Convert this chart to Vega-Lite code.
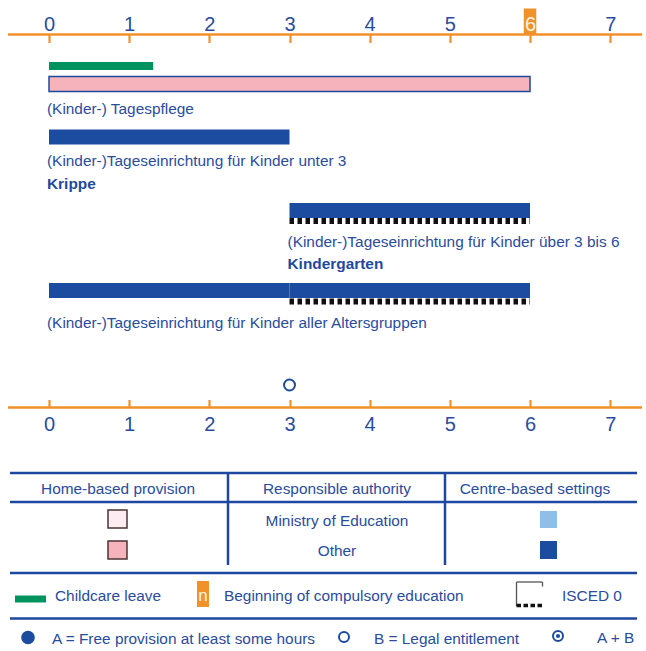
{
  "$schema": "https://vega.github.io/schema/vega-lite/v6.json",
  "width": 646,
  "height": 651,
  "padding": 0,
  "autosize": {"type": "none"},
  "background": "white",
  "config": {"view": {"stroke": null}, "font": "Liberation Sans, Arial, sans-serif"},
  "datasets": {
    "compulsory": [{"age": 6, "top": 0.85, "bottom": 3.4}],
    "entitlement": [{"age": 3, "lane": 38.5, "type": "B"}],
    "axisLines": [{"from": -0.511, "to": 7.397, "lane": 3.45}, {"from": -0.511, "to": 7.397, "lane": 40.75}],
    "provision": [
      {"category": "Childcare leave", "start": 0, "end": 1.3, "top": 6.2, "bottom": 7.0},
      {"category": "Home-based / Other", "start": 0, "end": 6, "top": 7.65, "bottom": 9.15},
      {"category": "Centre-based / Other", "start": 0, "end": 3, "top": 12.95, "bottom": 14.45},
      {"category": "Centre-based / Other", "start": 3, "end": 6, "top": 20.3, "bottom": 21.8},
      {"category": "Centre-based / Other", "start": 0, "end": 3, "top": 28.3, "bottom": 29.8},
      {"category": "Centre-based / Other", "start": 3, "end": 6, "top": 28.3, "bottom": 29.8}
    ],
    "isced": [{"start": 3, "end": 6, "lane": 22.1}, {"start": 3, "end": 6, "lane": 30.15}],
    "labels": [
      {"text": "(Kinder-) Tagespflege", "age": 0, "lane": 10.9, "bold": false},
      {"text": "(Kinder-)Tageseinrichtung für Kinder unter 3", "age": 0, "lane": 16.1, "bold": false},
      {"text": "Krippe", "age": 0, "lane": 18.4, "bold": true},
      {"text": "(Kinder-)Tageseinrichtung für Kinder über 3 bis 6", "age": 3, "lane": 24.2, "bold": false},
      {"text": "Kindergarten", "age": 3, "lane": 26.4, "bold": true},
      {"text": "(Kinder-)Tageseinrichtung für Kinder aller Altersgruppen", "age": 0, "lane": 32.3, "bold": false}
    ],
    "tableLines": [
      {"x1": 1.0, "x2": 63.7, "y1": 47.3, "y2": 47.3},
      {"x1": 1.0, "x2": 63.7, "y1": 50.2, "y2": 50.2},
      {"x1": 1.0, "x2": 63.7, "y1": 57.3, "y2": 57.3},
      {"x1": 1.0, "x2": 63.7, "y1": 61.85, "y2": 61.85},
      {"x1": 22.8, "x2": 22.8, "y1": 47.3, "y2": 56.5},
      {"x1": 44.5, "x2": 44.5, "y1": 47.3, "y2": 56.5}
    ],
    "swatches": [
      {"category": "Home-based / Ministry of Education", "x1": 10.8, "x2": 12.7, "y1": 51.0, "y2": 52.8},
      {"category": "Home-based / Other", "x1": 10.8, "x2": 12.7, "y1": 54.1, "y2": 55.9},
      {"category": "Centre-based / Ministry of Education", "x1": 54.0, "x2": 55.7, "y1": 51.1, "y2": 52.8},
      {"category": "Centre-based / Other", "x1": 54.0, "x2": 55.7, "y1": 54.1, "y2": 55.9},
      {"category": "Childcare leave", "x1": 1.5, "x2": 4.6, "y1": 59.55, "y2": 60.25},
      {"category": "Compulsory education", "x1": 19.7, "x2": 20.9, "y1": 58.1, "y2": 60.7}
    ],
    "iscedFrame": [
      {"x1": 51.65, "x2": 54.25, "y1": 58.2, "y2": 58.2},
      {"x1": 51.65, "x2": 51.65, "y1": 58.2, "y2": 60.6},
      {"x1": 54.25, "x2": 54.25, "y1": 58.2, "y2": 58.65}
    ],
    "iscedDots": [{"x1": 51.65, "x2": 54.25, "y": 60.55}],
    "symbols": [
      {"type": "A", "x": 2.8, "y": 63.75},
      {"type": "B", "x": 34.4, "y": 63.7},
      {"type": "A+B", "x": 55.8, "y": 63.6}
    ],
    "centerTexts": [
      {"text": "Home-based provision", "x": 11.8, "y": 48.9},
      {"text": "Responsible authority", "x": 33.7, "y": 48.9},
      {"text": "Centre-based settings", "x": 53.5, "y": 48.9},
      {"text": "Ministry of Education", "x": 33.7, "y": 52.1},
      {"text": "Other", "x": 33.7, "y": 55.1}
    ],
    "leftTexts": [
      {"text": "Childcare leave", "x": 5.5, "y": 59.6},
      {"text": "Beginning of compulsory education", "x": 22.4, "y": 59.6},
      {"text": "ISCED 0", "x": 56.2, "y": 59.6},
      {"text": "A = Free provision at least some hours", "x": 5.2, "y": 63.85},
      {"text": "B = Legal entitlement", "x": 37.4, "y": 63.85},
      {"text": "A + B", "x": 59.7, "y": 63.8}
    ],
    "marker": [{"text": "n", "x": 20.3, "y": 59.6}]
  },
  "layer": [
    {
      "resolve": {"axis": {"x": "independent"}},
      "layer": [
        {
          "data": {"name": "compulsory"},
          "mark": {"type": "bar", "width": 12.5, "color": "#f0912a"},
          "encoding": {
            "x": {"field": "age", "type": "quantitative",
              "scale": {"domain": [-0.6112, 7.4467], "nice": false, "zero": false, "padding": 0},
              "axis": {"orient": "top", "offset": -34.5, "values": [0, 1, 2, 3, 4, 5, 6, 7], "domain": false, "grid": false,
                "ticks": true, "tickColor": "#f0912a", "tickWidth": 2.2, "tickSize": -8,
                "labelFont": "Liberation Sans, Arial, sans-serif", "labelFontSize": 20,
                "labelColor": {"condition": {"test": "datum.value === 6", "value": "#fff4e6"}, "value": "#2a4c9c"},
                "labelPadding": 12.5, "labelBaseline": "alphabetic", "labelFlush": false, "labelOverlap": false, "labelBound": false,
                "title": null, "zindex": 1}},
            "y": {"field": "top", "type": "quantitative", "scale": {"domain": [0, 65.1], "reverse": true, "nice": false, "zero": false, "padding": 0}, "axis": null},
            "y2": {"field": "bottom"}
          }
        },
        {
          "data": {"name": "axisLines"},
          "mark": {"type": "rule", "color": "#f0912a", "strokeWidth": 2.5},
          "encoding": {
            "x": {"field": "from", "type": "quantitative", "axis": null},
            "x2": {"field": "to"},
            "y": {"field": "lane", "type": "quantitative", "scale": {"domain": [0, 65.1], "reverse": true, "nice": false, "zero": false, "padding": 0}, "axis": null}
          }
        },
        {
          "data": {"name": "entitlement"},
          "mark": {"type": "point", "shape": "circle", "filled": false, "size": 120, "strokeWidth": 2, "color": "#1f4a9c", "opacity": 1},
          "encoding": {
            "x": {"field": "age", "type": "quantitative",
              "axis": {"orient": "bottom", "offset": -243.5, "values": [0, 1, 2, 3, 4, 5, 6, 7], "domain": false, "grid": false,
                "ticks": true, "tickColor": "#f0912a", "tickWidth": 2.2, "tickSize": -8,
                "labelFont": "Liberation Sans, Arial, sans-serif", "labelFontSize": 20, "labelColor": "#2a4c9c",
                "labelPadding": 30.5, "labelBaseline": "alphabetic", "labelFlush": false, "labelOverlap": false, "labelBound": false,
                "title": null, "zindex": 1}},
            "y": {"field": "lane", "type": "quantitative", "scale": {"domain": [0, 65.1], "reverse": true, "nice": false, "zero": false, "padding": 0}, "axis": null}
          }
        },
        {
          "data": {"name": "provision"},
          "mark": {"type": "rect", "strokeWidth": 1.5},
          "encoding": {
            "x": {"field": "start", "type": "quantitative", "axis": null},
            "x2": {"field": "end"},
            "y": {"field": "top", "type": "quantitative", "scale": {"domain": [0, 65.1], "reverse": true, "nice": false, "zero": false, "padding": 0}, "axis": null},
            "y2": {"field": "bottom"},
            "color": {"field": "category", "type": "nominal", "legend": null,
              "scale": {"domain": ["Childcare leave", "Home-based / Ministry of Education", "Home-based / Other", "Centre-based / Ministry of Education", "Centre-based / Other", "Compulsory education"],
                "range": ["#00925f", "#fdedf2", "#f7b3bb", "#8fbfe6", "#1b4c9f", "#f0912a"]}},
            "stroke": {"condition": {"test": "datum.category === 'Home-based / Other'", "value": "#1f4a9c"}, "value": null}
          }
        },
        {
          "data": {"name": "isced"},
          "mark": {"type": "rule", "color": "#111111", "strokeWidth": 6, "strokeDash": [4.5, 3.5], "strokeCap": "butt"},
          "encoding": {
            "x": {"field": "start", "type": "quantitative", "axis": null},
            "x2": {"field": "end"},
            "y": {"field": "lane", "type": "quantitative", "scale": {"domain": [0, 65.1], "reverse": true, "nice": false, "zero": false, "padding": 0}, "axis": null}
          }
        },
        {
          "data": {"name": "labels"},
          "transform": [{"filter": "!datum.bold"}],
          "mark": {"type": "text", "align": "left", "baseline": "middle", "dx": -2, "fontSize": 15.4, "color": "#2a4c9c", "font": "Liberation Sans, Arial, sans-serif"},
          "encoding": {
            "x": {"field": "age", "type": "quantitative", "axis": null},
            "y": {"field": "lane", "type": "quantitative", "scale": {"domain": [0, 65.1], "reverse": true, "nice": false, "zero": false, "padding": 0}, "axis": null},
            "text": {"field": "text"}
          }
        },
        {
          "data": {"name": "labels"},
          "transform": [{"filter": "datum.bold"}],
          "mark": {"type": "text", "align": "left", "baseline": "middle", "dx": -2, "fontSize": 15.4, "fontWeight": "bold", "color": "#1f4a9c", "font": "Liberation Sans, Arial, sans-serif"},
          "encoding": {
            "x": {"field": "age", "type": "quantitative", "axis": null},
            "y": {"field": "lane", "type": "quantitative", "scale": {"domain": [0, 65.1], "reverse": true, "nice": false, "zero": false, "padding": 0}, "axis": null},
            "text": {"field": "text"}
          }
        }
      ]
    },
    {
      "layer": [
        {
          "data": {"name": "tableLines"},
          "mark": {"type": "rule", "color": "#1d47a0", "strokeWidth": 2.5},
          "encoding": {
            "x": {"field": "x1", "type": "quantitative", "scale": {"domain": [0, 64.6], "nice": false, "zero": false, "padding": 0}, "axis": null},
            "x2": {"field": "x2"},
            "y": {"field": "y1", "type": "quantitative", "scale": {"domain": [0, 65.1], "reverse": true, "nice": false, "zero": false, "padding": 0}, "axis": null},
            "y2": {"field": "y2"}
          }
        },
        {
          "data": {"name": "swatches"},
          "mark": {"type": "rect", "strokeWidth": 1.5},
          "encoding": {
            "x": {"field": "x1", "type": "quantitative", "axis": null},
            "x2": {"field": "x2"},
            "y": {"field": "y1", "type": "quantitative", "scale": {"domain": [0, 65.1], "reverse": true, "nice": false, "zero": false, "padding": 0}, "axis": null},
            "y2": {"field": "y2"},
            "color": {"field": "category", "type": "nominal", "legend": null,
              "scale": {"domain": ["Childcare leave", "Home-based / Ministry of Education", "Home-based / Other", "Centre-based / Ministry of Education", "Centre-based / Other", "Compulsory education"],
                "range": ["#00925f", "#fdedf2", "#f7b3bb", "#8fbfe6", "#1b4c9f", "#f0912a"]}},
            "stroke": {"condition": {"test": "indexof(datum.category, 'Home-based') === 0", "value": "#4a3535"}, "value": null}
          }
        },
        {
          "data": {"name": "iscedFrame"},
          "mark": {"type": "rule", "color": "#555555", "strokeWidth": 1.3},
          "encoding": {
            "x": {"field": "x1", "type": "quantitative", "axis": null},
            "x2": {"field": "x2"},
            "y": {"field": "y1", "type": "quantitative", "scale": {"domain": [0, 65.1], "reverse": true, "nice": false, "zero": false, "padding": 0}, "axis": null},
            "y2": {"field": "y2"}
          }
        },
        {
          "data": {"name": "iscedDots"},
          "mark": {"type": "rule", "color": "#111111", "strokeWidth": 3.5, "strokeDash": [4.5, 2.5], "strokeCap": "butt"},
          "encoding": {
            "x": {"field": "x1", "type": "quantitative", "axis": null},
            "x2": {"field": "x2"},
            "y": {"field": "y", "type": "quantitative", "scale": {"domain": [0, 65.1], "reverse": true, "nice": false, "zero": false, "padding": 0}, "axis": null}
          }
        },
        {
          "data": {"name": "symbols"},
          "transform": [{"filter": "datum.type === 'A'"}],
          "mark": {"type": "point", "shape": "circle", "filled": true, "size": 185, "color": "#1b4c9f", "opacity": 1},
          "encoding": {
            "x": {"field": "x", "type": "quantitative", "axis": null},
            "y": {"field": "y", "type": "quantitative", "scale": {"domain": [0, 65.1], "reverse": true, "nice": false, "zero": false, "padding": 0}, "axis": null}
          }
        },
        {
          "data": {"name": "symbols"},
          "transform": [{"filter": "datum.type !== 'A'"}],
          "mark": {"type": "point", "shape": "circle", "filled": false, "size": 100, "strokeWidth": 2, "color": "#1b4c9f", "opacity": 1},
          "encoding": {
            "x": {"field": "x", "type": "quantitative", "axis": null},
            "y": {"field": "y", "type": "quantitative", "scale": {"domain": [0, 65.1], "reverse": true, "nice": false, "zero": false, "padding": 0}, "axis": null}
          }
        },
        {
          "data": {"name": "symbols"},
          "transform": [{"filter": "datum.type === 'A+B'"}],
          "mark": {"type": "point", "shape": "circle", "filled": true, "size": 18, "color": "#1b4c9f", "opacity": 1},
          "encoding": {
            "x": {"field": "x", "type": "quantitative", "axis": null},
            "y": {"field": "y", "type": "quantitative", "scale": {"domain": [0, 65.1], "reverse": true, "nice": false, "zero": false, "padding": 0}, "axis": null}
          }
        },
        {
          "data": {"name": "centerTexts"},
          "mark": {"type": "text", "align": "center", "baseline": "middle", "fontSize": 15.4, "color": "#2a4c9c", "font": "Liberation Sans, Arial, sans-serif"},
          "encoding": {
            "x": {"field": "x", "type": "quantitative", "axis": null},
            "y": {"field": "y", "type": "quantitative", "scale": {"domain": [0, 65.1], "reverse": true, "nice": false, "zero": false, "padding": 0}, "axis": null},
            "text": {"field": "text"}
          }
        },
        {
          "data": {"name": "leftTexts"},
          "mark": {"type": "text", "align": "left", "baseline": "middle", "fontSize": 15.4, "color": "#2a4c9c", "font": "Liberation Sans, Arial, sans-serif"},
          "encoding": {
            "x": {"field": "x", "type": "quantitative", "axis": null},
            "y": {"field": "y", "type": "quantitative", "scale": {"domain": [0, 65.1], "reverse": true, "nice": false, "zero": false, "padding": 0}, "axis": null},
            "text": {"field": "text"}
          }
        },
        {
          "data": {"name": "marker"},
          "mark": {"type": "text", "align": "center", "baseline": "middle", "fontSize": 17, "color": "#fff4e6", "font": "Liberation Sans, Arial, sans-serif"},
          "encoding": {
            "x": {"field": "x", "type": "quantitative", "axis": null},
            "y": {"field": "y", "type": "quantitative", "scale": {"domain": [0, 65.1], "reverse": true, "nice": false, "zero": false, "padding": 0}, "axis": null},
            "text": {"field": "text"}
          }
        }
      ]
    }
  ],
  "resolve": {"scale": {"x": "independent"}, "axis": {"x": "independent"}}
}
